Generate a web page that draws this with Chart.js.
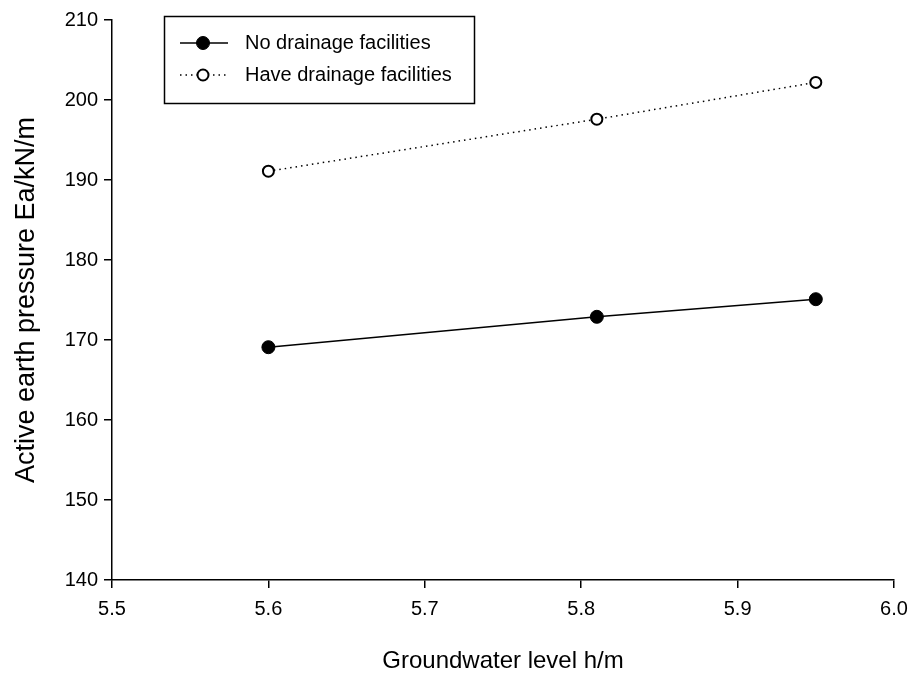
<!DOCTYPE html>
<html>
<head>
<meta charset="utf-8">
<script src="https://cdn.jsdelivr.net/npm/chart.js@4"></script>
<style>
html,body{margin:0;padding:0;background:#fff;}
#wrap{width:911px;height:676px;position:relative;}
</style>
</head>
<body>
<div id="wrap"><canvas id="c" width="911" height="676"></canvas></div>
<script>
const groundwaterLevel = [5.6, 5.81, 5.95];
const noDrainage = [169.1, 172.9, 175.1];
const haveDrainage = [191.1, 197.6, 202.2];
const seriesLabels = ['No drainage facilities', 'Have drainage facilities'];
const xTicks = [5.5, 5.6, 5.7, 5.8, 5.9, 6.0];
const yTicks = [140, 150, 160, 170, 180, 190, 200, 210];

const FONT = '"Liberation Sans", Arial, sans-serif';

const boxLegend = {
  id: 'boxLegend',
  afterDraw(chart) {
    const ctx = chart.ctx;
    ctx.save();
    const x0 = 164.5, y0 = 16.5, w = 310, h = 87;
    ctx.strokeStyle = '#000';
    ctx.lineWidth = 1.5;
    ctx.strokeRect(x0, y0, w, h);
    const rows = [43, 75];
    chart.data.datasets.forEach((ds, i) => {
      const y = rows[i];
      ctx.beginPath();
      ctx.setLineDash(ds.borderDash || []);
      ctx.lineWidth = ds.borderWidth;
      ctx.strokeStyle = '#000';
      ctx.moveTo(180, y);
      ctx.lineTo(228, y);
      ctx.stroke();
      ctx.setLineDash([]);
      ctx.beginPath();
      ctx.arc(203, y, ds.pointRadius, 0, Math.PI * 2);
      ctx.fillStyle = ds.pointBackgroundColor;
      ctx.fill();
      ctx.lineWidth = ds.pointBorderWidth;
      ctx.stroke();
      ctx.fillStyle = '#000';
      ctx.font = '20px ' + FONT;
      ctx.textBaseline = 'middle';
      ctx.textAlign = 'left';
      ctx.fillText(ds.label, 245, y);
    });
    ctx.restore();
  }
};

new Chart(document.getElementById('c'), {
  type: 'line',
  data: {
    datasets: [
      {
        label: seriesLabels[0],
        data: groundwaterLevel.map((x, i) => ({x, y: noDrainage[i]})),
        borderColor: '#000',
        borderWidth: 1.5,
        pointRadius: 6.5,
        pointBackgroundColor: '#000',
        pointBorderColor: '#000',
        pointBorderWidth: 1,
        tension: 0
      },
      {
        label: seriesLabels[1],
        data: groundwaterLevel.map((x, i) => ({x, y: haveDrainage[i]})),
        borderColor: '#000',
        borderWidth: 1.5,
        borderDash: [1.5, 4],
        pointRadius: 5.5,
        pointBackgroundColor: '#fff',
        pointBorderColor: '#000',
        pointBorderWidth: 2,
        tension: 0
      }
    ]
  },
  options: {
    responsive: false,
    animation: false,
    events: [],
    layout: { padding: { top: 20, right: 17, left: 0, bottom: 0 } },
    plugins: { legend: { display: false }, tooltip: { enabled: false } },
    scales: {
      x: {
        type: 'linear',
        min: 5.5, max: 6.0,
        afterBuildTicks: (s) => { s.ticks = xTicks.map(v => ({value: v})); },
        afterFit: (s) => { s.height = 96; s.paddingRight = 0; s.paddingLeft = 0; },
        grid: { display: true, drawOnChartArea: false, drawTicks: true, tickLength: 8, color: '#000', lineWidth: 1.5 },
        border: { display: true, color: '#000', width: 1.5 },
        ticks: { color: '#000', font: { family: FONT, size: 20 }, padding: 9, maxRotation: 0,
                 callback: (v) => Number(v).toFixed(1) },
        title: { display: true, text: 'Groundwater level h/m', color: '#000',
                 font: { family: FONT, size: 24 }, padding: { top: 20, bottom: 0 } }
      },
      y: {
        min: 140, max: 210,
        afterBuildTicks: (s) => { s.ticks = yTicks.map(v => ({value: v})); },
        afterFit: (s) => { s.width = 112; },
        grid: { display: true, drawOnChartArea: false, drawTicks: true, tickLength: 8, color: '#000', lineWidth: 1.5 },
        border: { display: true, color: '#000', width: 1.5 },
        ticks: { color: '#000', font: { family: FONT, size: 20 }, padding: 6 },
        title: { display: true, text: 'Active earth pressure Ea/kN/m', color: '#000',
                 font: { family: FONT, size: 27 }, padding: { top: 10, bottom: 10 } }
      }
    }
  },
  plugins: [boxLegend]
});
</script>
</body>
</html>
